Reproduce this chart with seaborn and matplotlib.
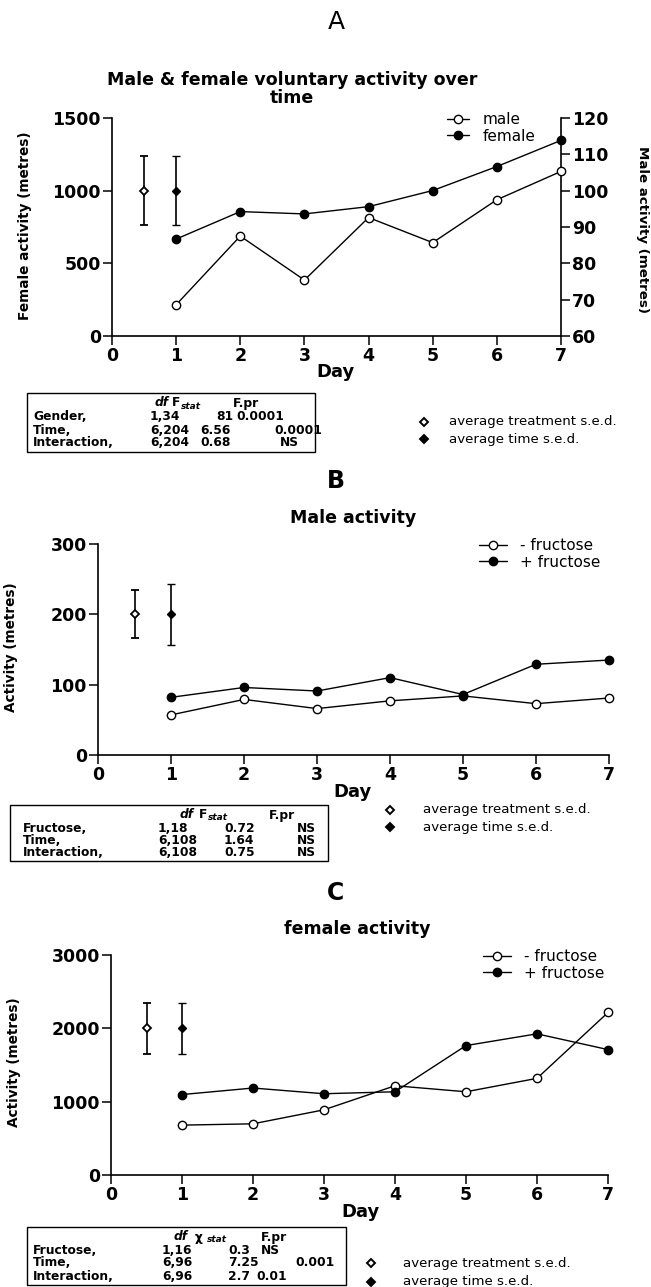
import matplotlib
matplotlib.use("Agg")
import matplotlib.pyplot as plt
import seaborn as sns
from matplotlib.lines import Line2D
from matplotlib.patches import Rectangle

# ---------------- data ----------------
days = [1, 2, 3, 4, 5, 6, 7]
x_ticks = [0, 1, 2, 3, 4, 5, 6, 7]
sed_x = [0.5, 1.0]

# Panel A
female_A = [667, 856, 840, 890, 1001, 1166, 1346]
male_A = [68.6, 87.5, 75.4, 92.6, 85.7, 97.5, 105.3]
sedA_center = 1000
sedA_err = [236, 236]          # treatment, time
ticks_A_left = [0, 500, 1000, 1500]
ticks_A_right = [60, 70, 80, 90, 100, 110, 120]

# Panel B
male_minus = [57, 79, 66, 77, 84, 73, 81]
male_plus = [82, 96, 91, 110, 86, 129, 135]
sedB_center = 200
sedB_err = [34, 43]
ticks_B = [0, 100, 200, 300]

# Panel C
female_minus = [680, 698, 889, 1217, 1135, 1318, 2216]
female_plus = [1097, 1186, 1108, 1135, 1765, 1925, 1710]
sedC_center = 2000
sedC_err = [345, 345]
ticks_C = [0, 1000, 2000, 3000]

# Tables
tabA_rows = ["Gender,", "Time,", "Interaction,"]
tabA_df = ["1,34", "6,204", "6,204"]
tabA_stat = ["81", "6.56", "0.68"]
tabA_pr = ["0.0001", "0.0001", "NS"]

tabB_rows = ["Fructose,", "Time,", "Interaction,"]
tabB_df = ["1,18", "6,108", "6,108"]
tabB_stat = ["0.72", "1.64", "0.75"]
tabB_pr = ["NS", "NS", "NS"]

tabC_rows = ["Fructose,", "Time,", "Interaction,"]
tabC_df = ["1,16", "6,96", "6,96"]
tabC_stat = ["0.3", "7.25", "2.7"]
tabC_pr = ["NS", "0.001", "0.01"]

sed_labels = ["average treatment s.e.d.", "average time s.e.d."]

# ---------------- figure ----------------
sns.set_style("ticks")
plt.rcParams["font.family"] = ["DejaVu Sans"]
for k in ["text.color", "axes.labelcolor", "xtick.color", "ytick.color", "axes.edgecolor"]:
    plt.rcParams[k] = "black"
W, H = 651, 1287
fig = plt.figure(figsize=(W / 100, H / 100), dpi=100)
fig.patch.set_facecolor("white")


def P(x, y):
    return (x / W, 1 - y / H)


def axes_px(x0, y0, x1, y1):
    return fig.add_axes([x0 / W, 1 - y1 / H, (x1 - x0) / W, (y1 - y0) / H])


LW_SP = 1.2
MS = 6.0
TFS = 12.5


def style_axes(ax, yticks):
    ax.set_facecolor("white")
    ax.set_xlim(0, 7)
    ax.set_ylim(yticks[0], yticks[-1])
    ax.set_xticks(x_ticks)
    ax.set_xticklabels([str(v) for v in x_ticks], fontweight="bold", fontsize=TFS)
    ax.set_yticks(yticks)
    ax.set_yticklabels([str(v) for v in yticks], fontweight="bold", fontsize=TFS)
    ax.tick_params(direction="out", length=6.5, width=1.1, pad=1.5, colors="black")
    for s in ["top", "right"]:
        ax.spines[s].set_visible(False)
    for s in ["left", "bottom"]:
        ax.spines[s].set_linewidth(LW_SP)
        ax.spines[s].set_color("black")
    ax.set_xlabel("")
    ax.set_ylabel("")
    ax.grid(False)


def series(ax, y, filled, label):
    sns.lineplot(x=days, y=y, ax=ax, color="black", marker="o", markersize=MS,
                 markerfacecolor="black" if filled else "white",
                 markeredgecolor="black", markeredgewidth=1.0, linewidth=1.0,
                 clip_on=False, label=label, zorder=5)


def sed_bars(ax, center, errs):
    ax.errorbar(sed_x[0], center, yerr=errs[0], fmt="D", mfc="white", mec="black",
                mew=1.3, ms=4, ecolor="black", elinewidth=1.2, capsize=3.2,
                capthick=1.2, clip_on=False, zorder=6)
    ax.errorbar(sed_x[1], center, yerr=errs[1], fmt="D", mfc="black", mec="black",
                mew=1.0, ms=4, ecolor="black", elinewidth=1.2, capsize=3.2,
                capthick=1.2, clip_on=False, zorder=6)


def make_legend(ax, labels, anchor, hl):
    handles = [
        Line2D([], [], color="black", marker="o", mfc="white", mec="black", ms=MS, lw=1.0),
        Line2D([], [], color="black", marker="o", mfc="black", mec="black", ms=MS, lw=1.0),
    ]
    leg = ax.legend(handles, labels, loc="upper left", bbox_to_anchor=anchor,
                    frameon=False, fontsize=11, handlelength=hl,
                    handletextpad=0.9, labelspacing=0.1, borderpad=0,
                    borderaxespad=0)
    leg.set_zorder(10)


def sed_legend(xm, xt, y1, y2):
    for (y, fc, lab) in [(y1, "white", sed_labels[0]), (y2, "black", sed_labels[1])]:
        fig.add_artist(Line2D([xm / W], [1 - y / H], transform=fig.transFigure,
                              marker="D", ms=4.2, mfc=fc, mec="black", mew=1.4,
                              linestyle="none"))
        fig.text(*P(xt, y), lab, fontsize=9.6, va="center", ha="left")


def table(box, rows_y, cols, header):
    x0, y0, x1, y1 = box
    fig.add_artist(Rectangle((x0 / W, 1 - y1 / H), (x1 - x0) / W, (y1 - y0) / H,
                             transform=fig.transFigure, fill=False, lw=1.0,
                             ec="black"))
    hy = rows_y[0]
    (xdf, xF, Fsym, xst, xpr) = header
    fig.text(*P(xdf, hy), "df", style="italic", fontweight="bold", fontsize=8.8, va="center")
    fig.text(*P(xF, hy), Fsym, fontweight="bold", fontsize=8.8, va="center")
    fig.text(*P(xst, hy + 3), "stat", style="italic", fontweight="bold", fontsize=6.5, va="center")
    fig.text(*P(xpr, hy), "F.pr", fontweight="bold", fontsize=8.8, va="center")
    for i, y in enumerate(rows_y[1:]):
        for (vals, xs, ha) in cols:
            x = xs[i] if isinstance(xs, list) else xs
            h = ha[i] if isinstance(ha, list) else ha
            fig.text(*P(x, y), vals[i], fontweight="bold", fontsize=8.8, va="center", ha=h)


# ================= Panel A =================
fig.text(*P(336, 22), "A", fontsize=18, ha="center", va="center")
fig.text(*P(292, 89), "Male & female voluntary activity over\ntime", fontsize=12.5,
         fontweight="bold", ha="center", va="center", linespacing=1.0)

axA = axes_px(112, 118, 561, 336)
style_axes(axA, ticks_A_left)
axA2 = axA.twinx()
axA2.set_ylim(ticks_A_right[0], ticks_A_right[-1])
axA2.set_yticks(ticks_A_right)
axA2.set_yticklabels([str(v) for v in ticks_A_right], fontweight="bold", fontsize=TFS)
axA2.tick_params(direction="out", length=6.5, width=1.1, pad=1.5, colors="black")
for s in ["top", "left", "bottom"]:
    axA2.spines[s].set_visible(False)
axA2.spines["right"].set_linewidth(LW_SP)
axA2.spines["right"].set_color("black")
axA.spines["right"].set_visible(False)

sed_bars(axA, sedA_center, sedA_err)
series(axA, female_A, True, "female")
series(axA2, male_A, False, "male")
axA2.set_ylabel("")
if axA.get_legend():
    axA.get_legend().remove()
make_legend(axA2, ["male", "female"], ((447 - 112) / 449, (336 - 112) / 218), 1.45)

fig.text(*P(25, 226), "Female activity (metres)", rotation=90, fontsize=9.8,
         fontweight="bold", ha="center", va="center")
fig.text(*P(642, 230), "Male activity (metres)", rotation=270, fontsize=9.6,
         fontweight="bold", ha="center", va="center")
fig.text(*P(336, 372), "Day", fontsize=13, fontweight="bold", ha="center", va="center")

table((27, 393, 315, 452), [403, 417, 430, 442],
      [(tabA_rows, 33, "left"),
       (tabA_df, 150, "left"),
       (tabA_stat, [216, 200, 200], "left"),
       (tabA_pr, [236, 274, 280], "left")],
      (155, 172, "F", 181, 233))
sed_legend(424, 449, 422, 439)

# ================= Panel B =================
fig.text(*P(336, 481), "B", fontsize=17, fontweight="bold", ha="center", va="center")
fig.text(*P(353, 518), "Male activity", fontsize=12.5, fontweight="bold",
         ha="center", va="center")
axB = axes_px(98, 544, 609, 755)
style_axes(axB, ticks_B)
sed_bars(axB, sedB_center, sedB_err)
series(axB, male_minus, False, "- fructose")
series(axB, male_plus, True, "+ fructose")
make_legend(axB, ["- fructose", "+ fructose"], ((479 - 98) / 511, (755 - 538) / 211), 1.8)
fig.text(*P(11, 647), "Activity (metres)", rotation=90, fontsize=9.8,
         fontweight="bold", ha="center", va="center")
fig.text(*P(353, 792), "Day", fontsize=13, fontweight="bold", ha="center", va="center")

table((10, 805, 328, 861), [815, 828, 840, 852],
      [(tabB_rows, 23, "left"),
       (tabB_df, 158, "left"),
       (tabB_stat, 224, "left"),
       (tabB_pr, 316, "right")],
      (180, 199, "F", 208, 269))
sed_legend(390, 423, 810, 827)

# ================= Panel C =================
fig.text(*P(336, 893), "C", fontsize=17, fontweight="bold", ha="center", va="center")
fig.text(*P(357, 929), "female activity", fontsize=12.5, fontweight="bold",
         ha="center", va="center")
axC = axes_px(111, 955, 608, 1175)
style_axes(axC, ticks_C)
sed_bars(axC, sedC_center, sedC_err)
series(axC, female_minus, False, "- fructose")
series(axC, female_plus, True, "+ fructose")
make_legend(axC, ["- fructose", "+ fructose"], ((483 - 111) / 497, (1175 - 949) / 220), 1.8)
fig.text(*P(14, 1062), "Activity (metres)", rotation=90, fontsize=9.8,
         fontweight="bold", ha="center", va="center")
fig.text(*P(360, 1212), "Day", fontsize=13, fontweight="bold", ha="center", va="center")

table((27, 1227, 346, 1285), [1237, 1251, 1263, 1276],
      [(tabC_rows, 33, "left"),
       (tabC_df, 162, "left"),
       (tabC_stat, 228, "left"),
       (tabC_pr, [261, 335, 256], ["left", "right", "left"])],
      (174, 195, "χ", 207, 261))
sed_legend(371, 403, 1263, 1282)

fig.savefig("out.png", dpi=100, facecolor="white")
